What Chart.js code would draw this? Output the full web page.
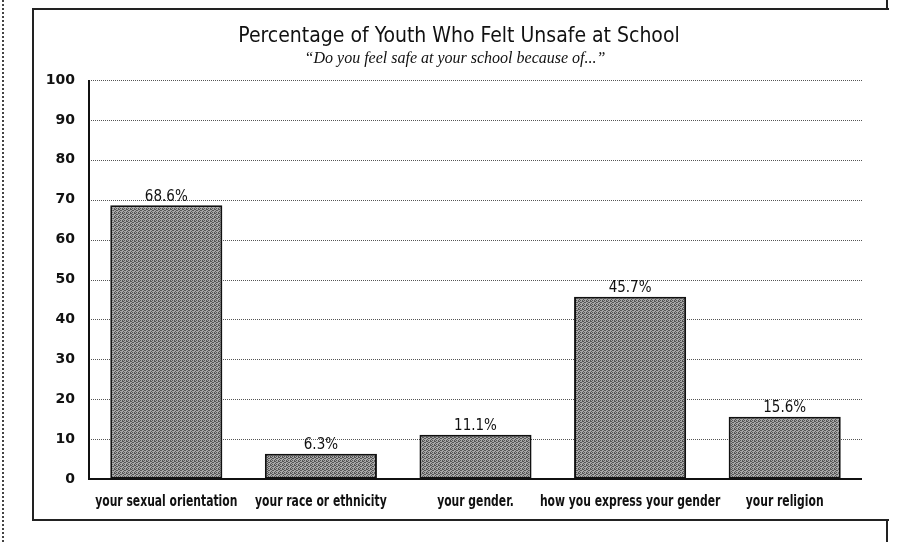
<!DOCTYPE html>
<html>
<head>
<meta charset="utf-8">
<script src="https://cdn.jsdelivr.net/npm/chart.js@4.4.1/dist/chart.umd.min.js"></script>
<style>
  html, body { margin: 0; padding: 0; background: #fff; }
  #wrap { position: relative; width: 897px; height: 542px; }
  #frame { position: absolute; left: 32px; top: 8px; width: 855px; height: 509px;
           border-left: 2px solid #222; border-top: 2px solid #222; border-bottom: 2px solid #222; }
  #edge { position: absolute; left: 2px; top: 0; height: 542px; border-left: 2px dotted #444; }
  #rtop { position: absolute; left: 886px; top: 0; height: 10px; border-left: 2px solid #222; }
  #rbot { position: absolute; left: 886px; top: 519px; height: 23px; border-left: 2px solid #222; }
  canvas { position: absolute; left: 0; top: 0; }
</style>
</head>
<body>
<div id="wrap">
  <div id="edge"></div>
  <div id="frame"></div>
  <div id="rtop"></div>
  <div id="rbot"></div>
  <canvas id="myChart" width="897" height="542"></canvas>
</div>
<script>
var categories = ["your sexual orientation", "your race or ethnicity", "your gender.", "how you express your gender", "your religion"];
var values = [68.6, 6.3, 11.1, 45.7, 15.6];
var valueLabels = ["68.6%", "6.3%", "11.1%", "45.7%", "15.6%"];
var yTicks = [0, 10, 20, 30, 40, 50, 60, 70, 80, 90, 100];

var titleText = "Percentage of Youth Who Felt Unsafe at School";
var subtitleText = "\u201cDo you feel safe at your school because of...\u201d";

// grey speckled fill like the scan
function makePattern() {
    var p = document.createElement("canvas");
    p.width = 4; p.height = 4;
    var c = p.getContext("2d");
    c.fillStyle = "#a8a8a8";
    c.fillRect(0, 0, 4, 4);
    c.fillStyle = "#555";
    c.fillRect(0, 0, 1, 1); c.fillRect(2, 1, 1, 1);
    c.fillRect(1, 2, 1, 1); c.fillRect(3, 3, 1, 1);
    c.fillRect(2, 0, 1, 1); c.fillRect(0, 2, 1, 1);
    c.fillRect(3, 1, 1, 1);
    return c.createPattern(p, "repeat");
}

var decor = {
    id: "decor",
    beforeDatasetsDraw(chart) {
        // dotted gridlines
        var ctx = chart.ctx, y = chart.scales.y, a = chart.chartArea;
        ctx.save();
        ctx.strokeStyle = "#555";
        ctx.lineWidth = 1;
        ctx.setLineDash([1, 1]);
        for (t of yTicks) {
            if (t == 0) continue;
            var py = Math.round(y.getPixelForValue(t)) + 0.5;
            ctx.beginPath();
            ctx.moveTo(a.left, py);
            ctx.lineTo(a.right, py);
            ctx.stroke();
        }
        ctx.restore();
    },
    afterDatasetsDraw(chart) {
        var ctx = chart.ctx, a = chart.chartArea, x = chart.scales.x;
        ctx.save();
        // axes
        ctx.strokeStyle = "#111";
        ctx.lineWidth = 2;
        ctx.beginPath();
        ctx.moveTo(a.left, a.top);
        ctx.lineTo(a.left, a.bottom);
        ctx.lineTo(a.right, a.bottom);
        ctx.stroke();
        // value labels
        ctx.fillStyle = "#111";
        ctx.font = "15px 'DejaVu Sans Condensed', sans-serif";
        ctx.textAlign = "center";
        ctx.textBaseline = "bottom";
        chart.getDatasetMeta(0).data.forEach(function (bar, i) {
            ctx.fillText(valueLabels[i], bar.x, bar.y - 1);
        });
        // category labels, narrow like the original face
        ctx.font = "bold 15px 'DejaVu Sans Condensed', sans-serif";
        ctx.textBaseline = "middle";
        categories.forEach(function (lab, i) {
            var cx = x.getPixelForTick(i);
            ctx.save();
            ctx.translate(cx, a.bottom + 23);
            ctx.scale(0.8, 1);
            ctx.fillText(lab, 0, 0);
            ctx.restore();
        });
        // titles
        ctx.font = "21px 'DejaVu Sans Condensed', sans-serif";
        ctx.fillText(titleText, 459, 37);
        ctx.font = "italic 16px 'Liberation Serif', serif";
        ctx.fillText(subtitleText, 455, 59);
        ctx.restore();
    }
};

new Chart("myChart", {
    type: "bar",
    data: {
        labels: categories,
        datasets: [{
            data: values,
            backgroundColor: makePattern(),
            borderColor: "#111",
            borderWidth: 2,
            borderSkipped: false,
            barPercentage: 0.725,
            categoryPercentage: 1
        }]
    },
    options: {
        responsive: false,
        animation: false,
        events: [],
        layout: { padding: { top: 80, left: 10, right: 35, bottom: 0 } },
        plugins: {
            legend: { display: false },
            title: { display: false },
            tooltip: { enabled: false }
        },
        scales: {
            x: {
                grid: { display: false, drawTicks: false },
                border: { display: false },
                ticks: { display: false },
                afterFit(scale) { scale.height = 63; }
            },
            y: {
                min: 0, max: 100,
                afterBuildTicks(scale) { scale.ticks = yTicks.map(v => ({ value: v })); },
                grid: { display: false, drawTicks: false },
                border: { display: false },
                ticks: {
                    color: "#111",
                    padding: 14,
                    font: { family: "'DejaVu Sans', sans-serif", size: 14, weight: "bold" }
                },
                afterFit(scale) { scale.width = 79; }
            }
        }
    },
    plugins: [decor]
});
</script>
</body>
</html>
